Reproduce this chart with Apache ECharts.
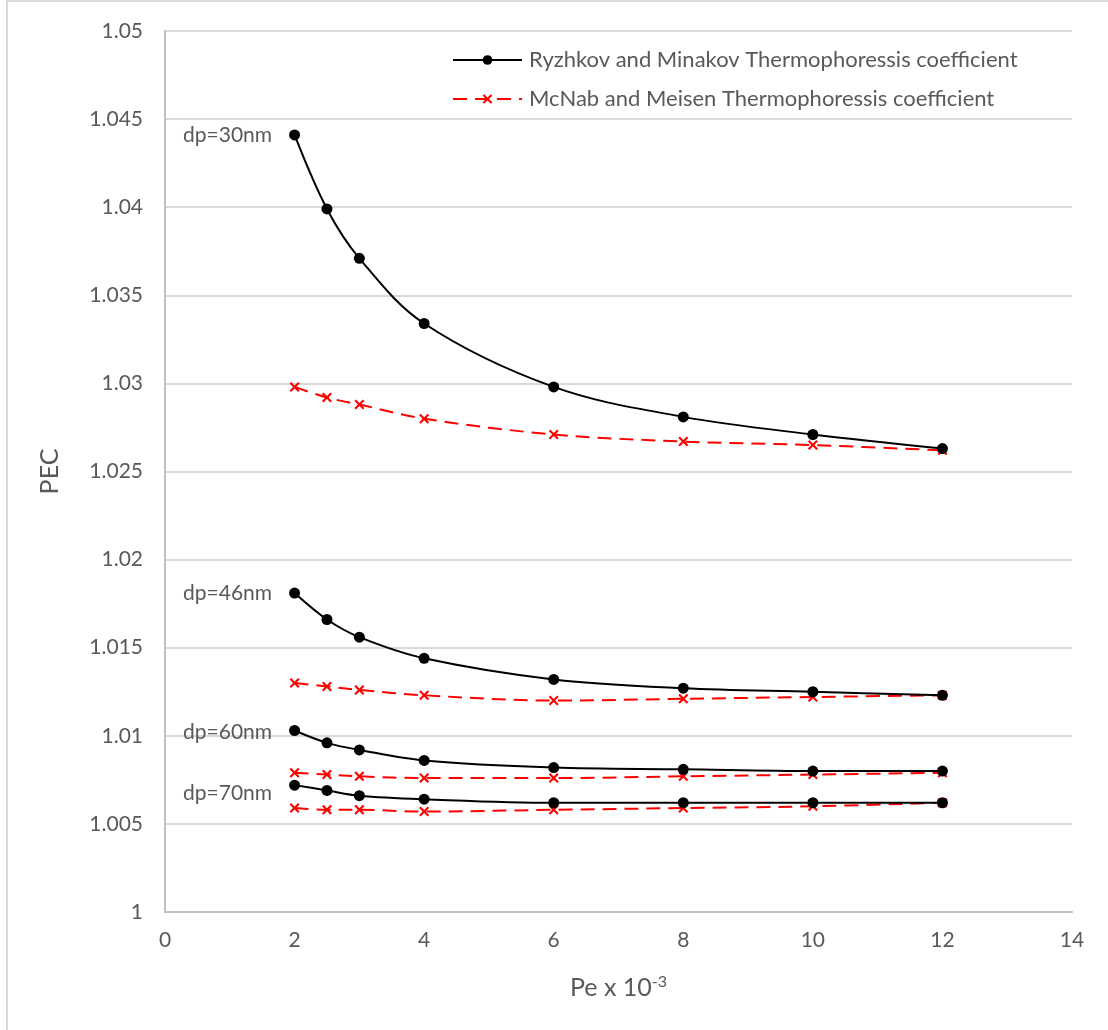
<!DOCTYPE html>
<html>
<head>
<meta charset="utf-8">
<script src="https://cdn.jsdelivr.net/npm/echarts@6/dist/echarts.min.js"></script>
<style>
  html, body { margin: 0; padding: 0; background: #fff; }
  #chart { width: 1108px; height: 1030px; }
</style>
</head>
<body>
<div id="chart"></div>
<script>
// Peclet number (x 10^-3)
const pe = [2, 2.5, 3, 4, 6, 8, 10, 12];

// PEC, Ryzhkov and Minakov thermophoresis coefficient
const ryzhkov30 = [1.0441, 1.0399, 1.0371, 1.0334, 1.0298, 1.0281, 1.0271, 1.0263];
const ryzhkov46 = [1.0181, 1.0166, 1.0156, 1.0144, 1.0132, 1.0127, 1.0125, 1.0123];
const ryzhkov60 = [1.0103, 1.0096, 1.0092, 1.0086, 1.0082, 1.0081, 1.0080, 1.0080];
const ryzhkov70 = [1.0072, 1.0069, 1.0066, 1.0064, 1.0062, 1.0062, 1.0062, 1.0062];

// PEC, McNab and Meisen thermophoresis coefficient
const mcnab30 = [1.0298, 1.0292, 1.0288, 1.0280, 1.0271, 1.0267, 1.0265, 1.0262];
const mcnab46 = [1.0130, 1.0128, 1.0126, 1.0123, 1.0120, 1.0121, 1.0122, 1.0123];
const mcnab60 = [1.0079, 1.0078, 1.0077, 1.0076, 1.0076, 1.0077, 1.0078, 1.0079];
const mcnab70 = [1.0059, 1.0058, 1.0058, 1.0057, 1.0058, 1.0059, 1.0060, 1.0062];

const diameterLabels = ['dp=30nm', 'dp=46nm', 'dp=60nm', 'dp=70nm'];

const nameR = 'Ryzhkov and Minakov Thermophoressis coefficient';
const nameM = 'McNab and Meisen Thermophoressis coefficient';

const FONT = 'Lato, "Open Sans", sans-serif';
const TEXT = '#595959';
const crossPath = 'path://M1.5,0 L5,3.5 L8.5,0 L10,1.5 L6.5,5 L10,8.5 L8.5,10 L5,6.5 L1.5,10 L0,8.5 L3.5,5 L0,1.5 Z';

function pairs(ys) { return pe.map((x, i) => [x, ys[i]]); }

function ryzhkovSeries(ys, label, offsetY) {
  const data = pairs(ys).map((p, i) => i === 0 ? {
    value: p,
    label: {
      show: true, position: 'left', distance: 17, offset: [0, offsetY],
      formatter: label, color: TEXT, fontSize: 21, fontFamily: FONT
    }
  } : p);
  return {
    name: nameR, type: 'line', smooth: 0.35, data,
    symbol: 'circle', symbolSize: 11,
    itemStyle: { color: '#000' },
    lineStyle: { color: '#000', width: 2 },
    emphasis: { disabled: true }, z: 3
  };
}

function mcnabSeries(ys) {
  return {
    name: nameM, type: 'line', smooth: 0.35, data: pairs(ys),
    symbol: crossPath, symbolSize: 10,
    itemStyle: { color: '#ff0000' },
    lineStyle: { color: '#ff0000', width: 2, type: [14, 8] },
    emphasis: { disabled: true }, z: 2
  };
}

const chart = echarts.init(document.getElementById('chart'), null, { renderer: 'canvas' });
chart.setOption({
  animation: false,
  backgroundColor: '#fff',
  graphic: [{
    type: 'rect', shape: { x: 7, y: 1, width: 1300, height: 1300 },
    style: { fill: 'none', stroke: '#d9d9d9', lineWidth: 2 }, silent: true
  }],
  grid: { left: 165, right: 36, top: 31, bottom: 118 },
  legend: {
    orient: 'vertical', left: 452, top: 49, padding: 0,
    itemWidth: 69, itemHeight: 12, itemGap: 17,
    data: [nameR, nameM],
    textStyle: { color: TEXT, fontSize: 22, fontFamily: FONT, padding: [0, 0, 0, 2] }
  },
  xAxis: {
    type: 'value', min: 0, max: 14, interval: 2,
    name: 'Pe x 10{sup|-3}', nameLocation: 'middle', nameGap: 62,
    nameTextStyle: {
      color: TEXT, fontSize: 25, fontFamily: FONT,
      rich: { sup: { fontSize: 16, color: TEXT, fontFamily: FONT, verticalAlign: 'top', padding: [0, 0, 12, 0] } }
    },
    axisLine: { show: true, lineStyle: { color: '#bfbfbf', width: 2 } },
    axisTick: { show: false },
    splitLine: { show: false },
    axisLabel: { color: TEXT, fontSize: 21, fontFamily: FONT, margin: 18 }
  },
  yAxis: {
    type: 'value', min: 1, max: 1.05, interval: 0.005,
    name: 'PEC', nameLocation: 'middle', nameGap: 103, nameRotate: 90,
    nameTextStyle: { color: TEXT, fontSize: 25, fontFamily: FONT },
    axisLine: { show: true, lineStyle: { color: '#bfbfbf', width: 2 } },
    axisTick: { show: false },
    splitLine: { show: true, lineStyle: { color: '#d9d9d9', width: 2 } },
    axisLabel: {
      color: TEXT, fontSize: 21, fontFamily: FONT, margin: 22,
      formatter: v => String(+v.toFixed(3))
    }
  },
  series: [
    ryzhkovSeries(ryzhkov30, diameterLabels[0], 0),
    mcnabSeries(mcnab30),
    ryzhkovSeries(ryzhkov46, diameterLabels[1], 0),
    mcnabSeries(mcnab46),
    ryzhkovSeries(ryzhkov60, diameterLabels[2], 2),
    mcnabSeries(mcnab60),
    ryzhkovSeries(ryzhkov70, diameterLabels[3], 8),
    mcnabSeries(mcnab70)
  ]
});
</script>
</body>
</html>
